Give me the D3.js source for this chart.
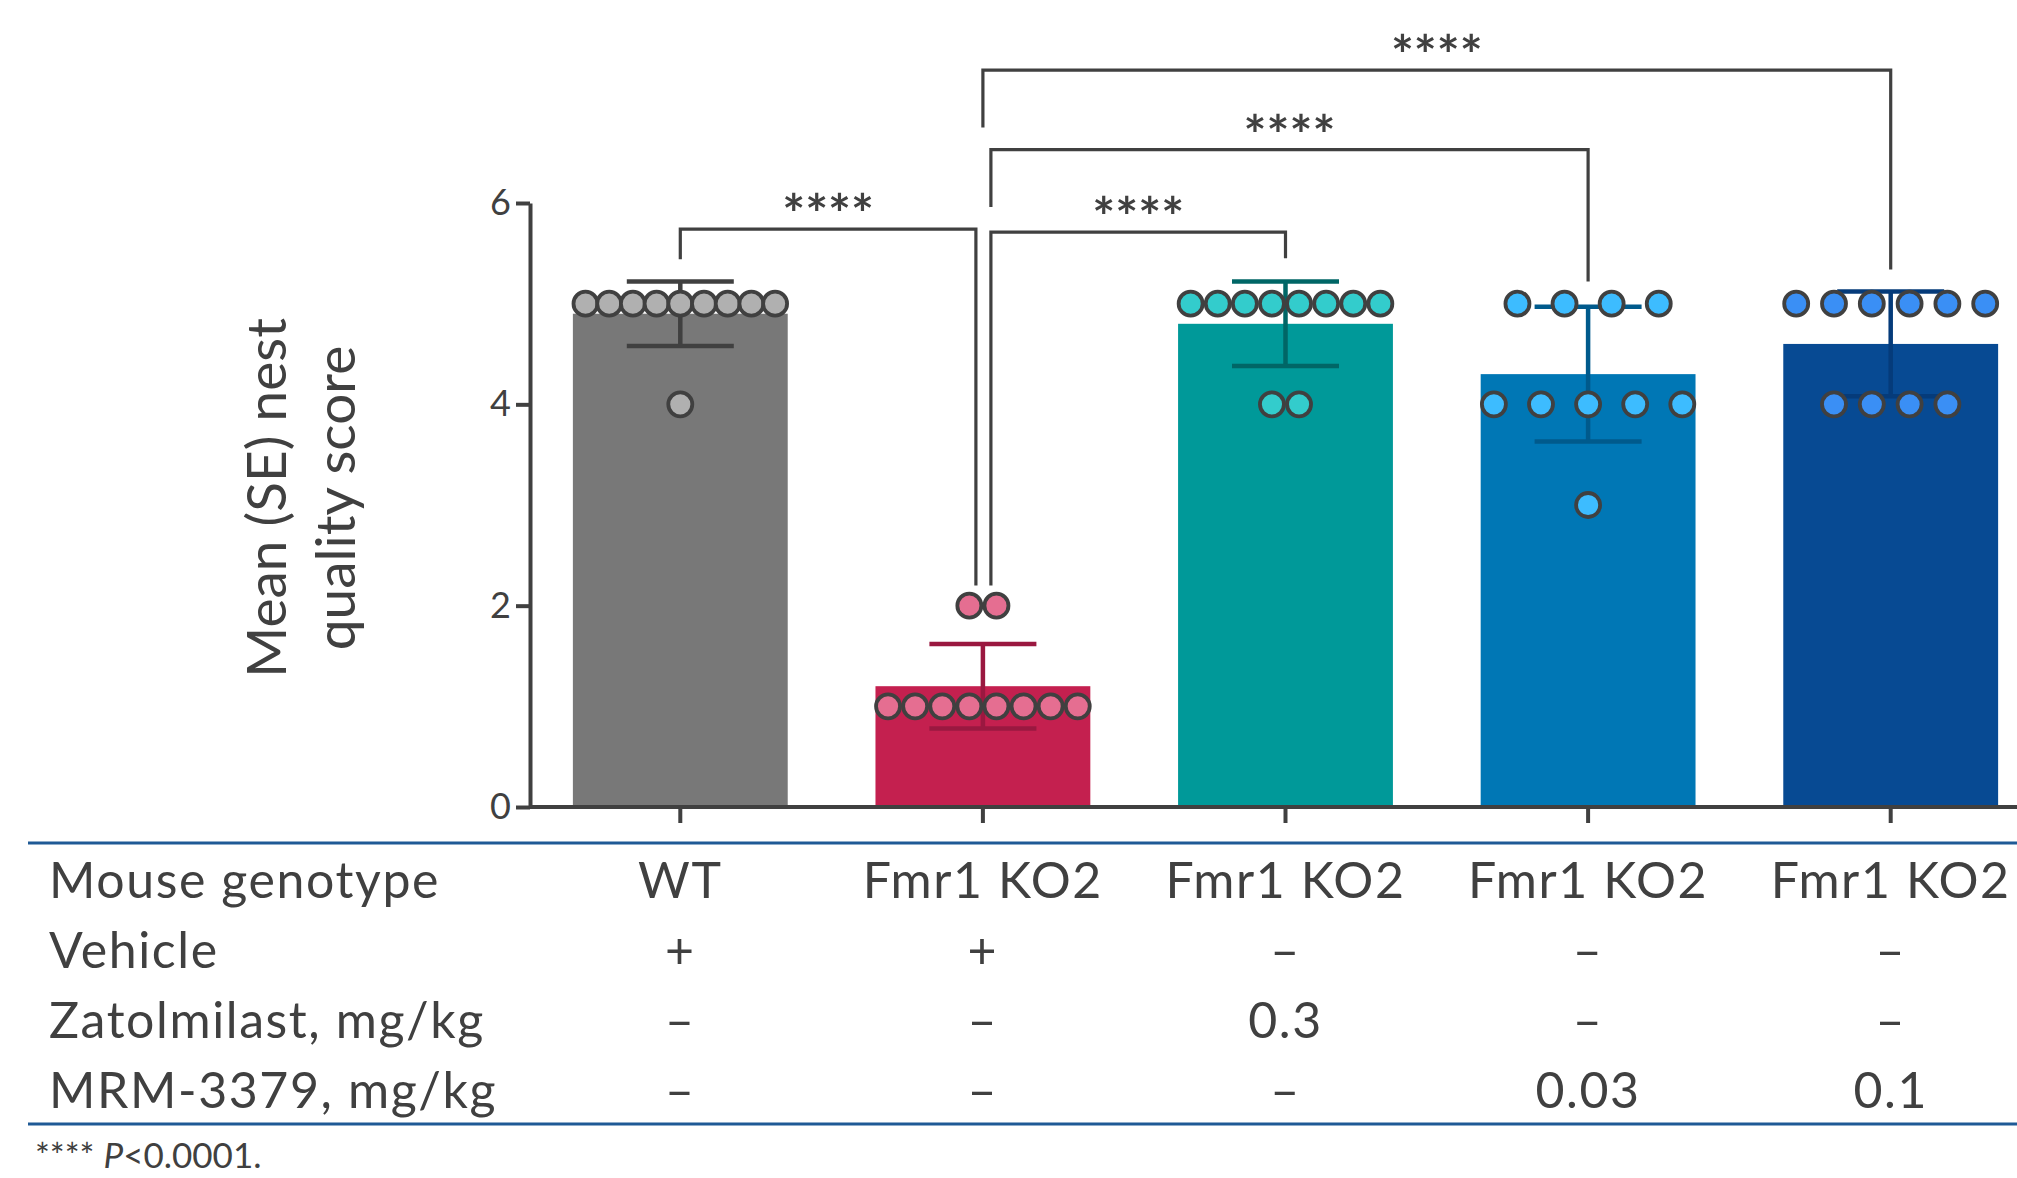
<!DOCTYPE html>
<html>
<head>
<meta charset="utf-8">
<script src="https://cdn.jsdelivr.net/npm/d3@7"></script>
<style>
  html, body { margin: 0; padding: 0; background: #fff; }
  svg { display: block; }
  text { font-family: Lato, "Open Sans", sans-serif; fill: #404040; }
</style>
</head>
<body>
<svg id="chart" width="2017" height="1178"></svg>
<script>
// ---------------- DATA ----------------
const groups = ["WT + vehicle", "Fmr1 KO2 + vehicle", "Fmr1 KO2 + zatolmilast 0.3", "Fmr1 KO2 + MRM-3379 0.03", "Fmr1 KO2 + MRM-3379 0.1"];
const means = [4.9, 1.2, 4.8, 4.3, 4.6];
const errors = [0.32, 0.42, 0.42, 0.67, 0.52];
const dotsWT = [5, 5, 5, 5, 5, 5, 5, 5, 5, 4];
const dotsKOVehicle = [1, 1, 1, 1, 1, 1, 1, 1, 2, 2];
const dotsZatolmilast = [5, 5, 5, 5, 5, 5, 5, 5, 4, 4];
const dotsMRM003 = [5, 5, 5, 5, 4, 4, 4, 4, 4, 3];
const dotsMRM01 = [5, 5, 5, 5, 5, 5, 4, 4, 4, 4];
const yTicks = [0, 2, 4, 6];
const yLabelLines = ["Mean (SE) nest", "quality score"];
const rowLabels = ["Mouse genotype", "Vehicle", "Zatolmilast, mg/kg", "MRM-3379, mg/kg"];
const rowGenotype = ["WT", "Fmr1 KO2", "Fmr1 KO2", "Fmr1 KO2", "Fmr1 KO2"];
const rowVehicle = ["+", "+", "\u2013", "\u2013", "\u2013"];
const rowZatolmilast = ["\u2013", "\u2013", "0.3", "\u2013", "\u2013"];
const rowMRM = ["\u2013", "\u2013", "\u2013", "0.03", "0.1"];
// significance comparisons (group indices, bracket level and leg ends in score units)
const compA = [0, 1, 1, 1];
const compB = [1, 2, 3, 4];
const compLevel = [5.74, 5.71, 6.53, 7.32];
const compEndA = [5.44, 2.2, 5.96, 6.75];
const compEndB = [2.2, 5.45, 5.22, 5.34];
const compLabel = ["****", "****", "****", "****"];
const footnoteStars = "****";
const footnoteP = "P";
const footnoteRest = "<0.0001.";

// ---------------- STYLE ----------------
const barColors = ["#787878", "#c4204f", "#009999", "#0077b5", "#074a93"];
const dotColors = ["#b0b0b0", "#e56e91", "#33cccc", "#3dbcff", "#3a8ff5"];
const errColors = ["#404040", "#9a1840", "#006666", "#005a8c", "#053b7a"];
const dotSpacing = [23.7, 27.1, 27.1, 47.1, 37.8];
const compOffA = [0, 8, 8, 0];
const compOffB = [-7, 0, 0, 0];
const ink = "#404040";
const tableBlue = "#1f5a96";
const tableFont = "50px";
const tableSpacing = "1.6px";

const svg = d3.select("#chart");
const x = d3.scaleBand().domain(groups).range([529, 2042]).paddingInner(0.29).paddingOuter(0.145);
const y = d3.scaleLinear().domain([0, 6]).range([807, 203]);
const cx = i => x(groups[i]) + x.bandwidth() / 2;

// bars
svg.append("g").selectAll("rect").data(groups).join("rect")
  .attr("x", d => x(d)).attr("width", x.bandwidth())
  .attr("y", (d, i) => y(means[i])).attr("height", (d, i) => y(0) - y(means[i]))
  .attr("fill", (d, i) => barColors[i]);

// error bars
const eg = svg.append("g");
groups.forEach((g, i) => {
  const c = cx(i), hw = 53.5;
  const e = eg.append("g").attr("stroke", errColors[i]).attr("stroke-width", 4.5).attr("fill", "none");
  e.append("line").attr("x1", c).attr("x2", c).attr("y1", y(means[i] + errors[i])).attr("y2", y(means[i] - errors[i]));
  e.append("line").attr("x1", c - hw).attr("x2", c + hw).attr("y1", y(means[i] + errors[i])).attr("y2", y(means[i] + errors[i]));
  e.append("line").attr("x1", c - hw).attr("x2", c + hw).attr("y1", y(means[i] - errors[i])).attr("y2", y(means[i] - errors[i]));
});

// dots
const allDots = [dotsWT, dotsKOVehicle, dotsZatolmilast, dotsMRM003, dotsMRM01];
const dg = svg.append("g");
allDots.forEach((vals, i) => {
  const levels = Array.from(d3.group(vals, v => v));
  levels.forEach(([v, arr]) => {
    const n = arr.length;
    arr.forEach((vv, k) => {
      dg.append("circle")
        .attr("cx", cx(i) + (k - (n - 1) / 2) * dotSpacing[i])
        .attr("cy", y(vv))
        .attr("r", 12)
        .attr("fill", dotColors[i])
        .attr("stroke", ink).attr("stroke-width", 3.8);
    });
  });
});

// y axis
const yAxis = svg.append("g").attr("transform", "translate(530,0)")
  .call(d3.axisLeft(y).tickValues(yTicks).tickFormat(d3.format("d")).tickSize(14).tickPadding(5).tickSizeOuter(0));
yAxis.select(".domain").attr("stroke", ink).attr("stroke-width", 4);
yAxis.selectAll(".tick line").attr("stroke", ink).attr("stroke-width", 4);
yAxis.selectAll(".tick text").style("font-family", "Lato, sans-serif").style("font-size", "36px").attr("fill", ink);

// x axis
const xAxis = svg.append("g").attr("transform", "translate(0,807)")
  .call(d3.axisBottom(x).tickSize(16).tickSizeOuter(0).tickFormat(""));
xAxis.select(".domain").attr("d", "M530,0H2017").attr("stroke", ink).attr("stroke-width", 4);
xAxis.selectAll(".tick line").attr("stroke", ink).attr("stroke-width", 4);

// y label
yLabelLines.forEach((t, k) => {
  svg.append("text")
    .attr("transform", `translate(${286 + k * 69},498) rotate(-90)`)
    .attr("text-anchor", "middle")
    .style("font-size", "55px")
    .text(t);
});

// significance brackets
const bg = svg.append("g");
compA.forEach((a, k) => {
  const xa = cx(a) + compOffA[k], xb = cx(compB[k]) + compOffB[k];
  const yl = y(compLevel[k]);
  bg.append("path")
    .attr("d", `M${xa},${y(compEndA[k])}V${yl}H${xb}V${y(compEndB[k])}`)
    .attr("fill", "none").attr("stroke", ink).attr("stroke-width", 3.2);
  bg.append("text")
    .attr("x", (xa + xb) / 2).attr("y", yl + 4)
    .attr("text-anchor", "middle")
    .style("font-size", "54px").style("font-weight", "bold")
    .text(compLabel[k]);
});

// table
svg.append("line").attr("x1", 28).attr("x2", 2017).attr("y1", 843).attr("y2", 843)
  .attr("stroke", tableBlue).attr("stroke-width", 3);
svg.append("line").attr("x1", 28).attr("x2", 2017).attr("y1", 1124).attr("y2", 1124)
  .attr("stroke", tableBlue).attr("stroke-width", 3);
const rows = [rowGenotype, rowVehicle, rowZatolmilast, rowMRM];
rowLabels.forEach((lab, r) => {
  const by = 898 + r * 70;
  svg.append("text").attr("x", 49).attr("y", by)
    .style("font-size", tableFont).style("letter-spacing", tableSpacing).text(lab);
  rows[r].forEach((v, i) => {
    svg.append("text").attr("x", cx(i)).attr("y", by).attr("text-anchor", "middle")
      .style("font-size", tableFont).style("letter-spacing", tableSpacing).text(v);
  });
});

// footnote
const fn = svg.append("text").attr("x", 35).attr("y", 1168).style("font-size", "35px");
fn.append("tspan").text(footnoteStars + " ");
fn.append("tspan").style("font-style", "italic").text(footnoteP);
fn.append("tspan").text(footnoteRest);
</script>
</body>
</html>
